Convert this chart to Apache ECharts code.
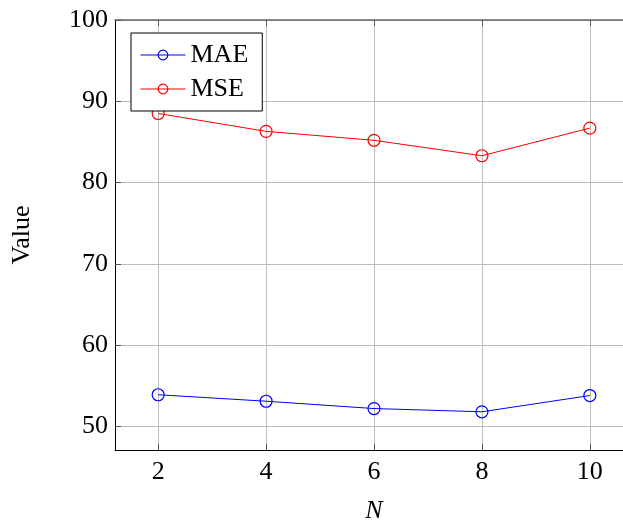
<!DOCTYPE html>
<html>
<head>
<meta charset="utf-8">
<script src="https://cdn.jsdelivr.net/npm/echarts@6/dist/echarts.min.js"></script>
<style>html,body{margin:0;padding:0;background:#fff}#c{width:623px;height:522px}</style>
</head>
<body>
<div id="c"></div>
<script>
const xValues = [2, 4, 6, 8, 10];
const maeValues = [53.9, 53.1, 52.2, 51.8, 53.8];
const mseValues = [88.5, 86.3, 85.2, 83.3, 86.7];
const xTicks = [2, 4, 6, 8, 10];
const yTicks = [50, 60, 70, 80, 90, 100];

const FONT = '"Liberation Serif", "DejaVu Serif", serif';
const chart = echarts.init(document.getElementById('c'), null, {renderer: 'canvas'});
const pair = (xs, ys) => xs.map((x, i) => [x, ys[i]]);
const tickStyle = {show: true, inside: true, length: 6, lineStyle: {color: '#555', width: 1}};
chart.setOption({
  animation: false,
  backgroundColor: '#fff',
  grid: {left: 115, top: 20, right: -10, bottom: 72, show: false, outerBoundsMode: 'none', containLabel: false},
  legend: {
    left: 131, top: 33, orient: 'vertical',
    backgroundColor: '#fff', borderColor: '#000', borderWidth: 1,
    padding: [9, 14, 9, 9], itemGap: 8, itemWidth: 45, itemHeight: 12,
    lineStyle: {width: 1},
    itemStyle: {borderWidth: 1.2},
    textStyle: {fontFamily: FONT, fontSize: 26, color: '#000', lineHeight: 26},
    data: ['MAE', 'MSE']
  },
  xAxis: [{
    type: 'value', min: 1.2, max: 10.8, position: 'bottom',
    name: 'N', nameLocation: 'middle', nameGap: 48,
    nameTextStyle: {fontFamily: FONT, fontSize: 26, fontStyle: 'italic', color: '#000'},
    axisLine: {show: true, onZero: false, lineStyle: {color: '#000', width: 1}},
    axisTick: Object.assign({customValues: xTicks}, tickStyle),
    axisLabel: {customValues: xTicks, margin: 9, fontFamily: FONT, fontSize: 26, color: '#000'},
    splitLine: {show: true, lineStyle: {color: '#bdbdbd', width: 1}}
  }, {
    type: 'value', min: 1.2, max: 10.8, position: 'top',
    axisLine: {show: true, onZero: false, lineStyle: {color: '#666', width: 1.5}},
    axisTick: Object.assign({customValues: xTicks}, tickStyle),
    axisLabel: {show: false},
    splitLine: {show: false}
  }],
  yAxis: {
    type: 'value', min: 47.1, max: 100,
    name: 'Value', nameLocation: 'middle', nameGap: 80, nameRotate: 90,
    nameTextStyle: {fontFamily: FONT, fontSize: 26, color: '#000'},
    axisLine: {show: true, onZero: false, lineStyle: {color: '#000', width: 1}},
    axisTick: Object.assign({customValues: yTicks}, tickStyle),
    axisLabel: {customValues: yTicks, margin: 7, fontFamily: FONT, fontSize: 26, color: '#000'},
    splitLine: {show: true, lineStyle: {color: '#bdbdbd', width: 1}}
  },
  series: [{
    name: 'MAE', type: 'line', data: pair(xValues, maeValues),
    symbol: 'circle', symbolSize: 12,
    lineStyle: {color: '#0000ff', width: 1},
    itemStyle: {color: 'rgba(255,255,255,0)', borderColor: '#0000ff', borderWidth: 1.2}
  }, {
    name: 'MSE', type: 'line', data: pair(xValues, mseValues),
    symbol: 'circle', symbolSize: 12,
    lineStyle: {color: '#ff0000', width: 1},
    itemStyle: {color: 'rgba(255,255,255,0)', borderColor: '#ff0000', borderWidth: 1.2}
  }]
});
</script>
</body>
</html>
